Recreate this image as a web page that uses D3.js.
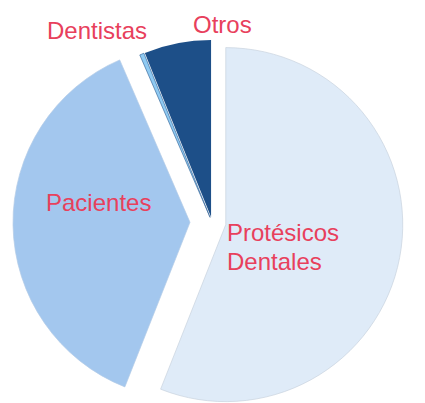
<!DOCTYPE html>
<html>
<head>
<meta charset="utf-8">
<script src="https://cdn.jsdelivr.net/npm/d3@7"></script>
<style>
	body { margin: 0; background: #fff; }
	text { font-family: "Liberation Sans", Arial, sans-serif; }
</style>
</head>
<body>
<svg id="chart" width="425" height="403"></svg>
<script>
// share of each group (%), clockwise from 12 o'clock
var categories = ["Protésicos Dentales", "Pacientes", "Dentistas", "Otros"];
var values = [56, 37.5, 0.4, 6.1];

// label lines, one list per category
var labelLines = [["Protésicos", "Dentales"], ["Pacientes"], ["Dentistas"], ["Otros"]];

var colors = ["#dfebf8", "#a3c7ee", "#8fcaf2", "#1d4f88"];
var strokes = ["#c9d3de", "#b3cbe6", "#2a5a90", "none"];
var explode = [14, 22, 5, 5];
// label anchor points (left x, first baseline y)
var labelPos = [[227, 241], [46, 211], [47, 39], [193, 33]];

var width = 425, height = 403;
var cx = 212, cy = 222, radius = 177;

var svg = d3.select("#chart");

var pie = d3.pie().sort(null).value(function(d){ return d.value; });
var arc = d3.arc().innerRadius(0).outerRadius(radius);

var data = categories.map(function(c, i){
	return { name: c, value: values[i], index: i };
});

var g = svg.append("g")
	.attr("transform", "translate(" + cx + "," + cy + ")");

// draw Otros first so the thin Dentistas sliver sits on its edge
var arcs = pie(data);
var order = [3, 0, 1, 2];

g.selectAll("path.slice")
	.data(order.map(function(i){ return arcs[i]; }))
	.enter()
	.append("path")
	.attr("class", "slice")
	.attr("d", arc)
	.attr("fill", function(d){ return colors[d.data.index]; })
	.attr("stroke", function(d){ return strokes[d.data.index]; })
	.attr("stroke-width", function(d){ return d.data.index == 2 ? 0.6 : 0.7; })
	.attr("transform", function(d){
		var a = (d.startAngle + d.endAngle) / 2;
		var k = explode[d.data.index];
		return "translate(" + (Math.sin(a) * k) + "," + (-Math.cos(a) * k) + ")";
	});

var labels = svg.selectAll("text.label")
	.data(data)
	.enter()
	.append("text")
	.attr("class", "label")
	.attr("x", function(d){ return labelPos[d.index][0]; })
	.attr("y", function(d){ return labelPos[d.index][1]; })
	.attr("fill", "#e8405c")
	.attr("font-size", "24px");

labels.selectAll("tspan")
	.data(function(d){ return labelLines[d.index].map(function(t){ return { t: t, x: labelPos[d.index][0] }; }); })
	.enter()
	.append("tspan")
	.attr("x", function(d){ return d.x; })
	.attr("dy", function(d, i){ return i == 0 ? 0 : 29; })
	.text(function(d){ return d.t; });
</script>
</body>
</html>
